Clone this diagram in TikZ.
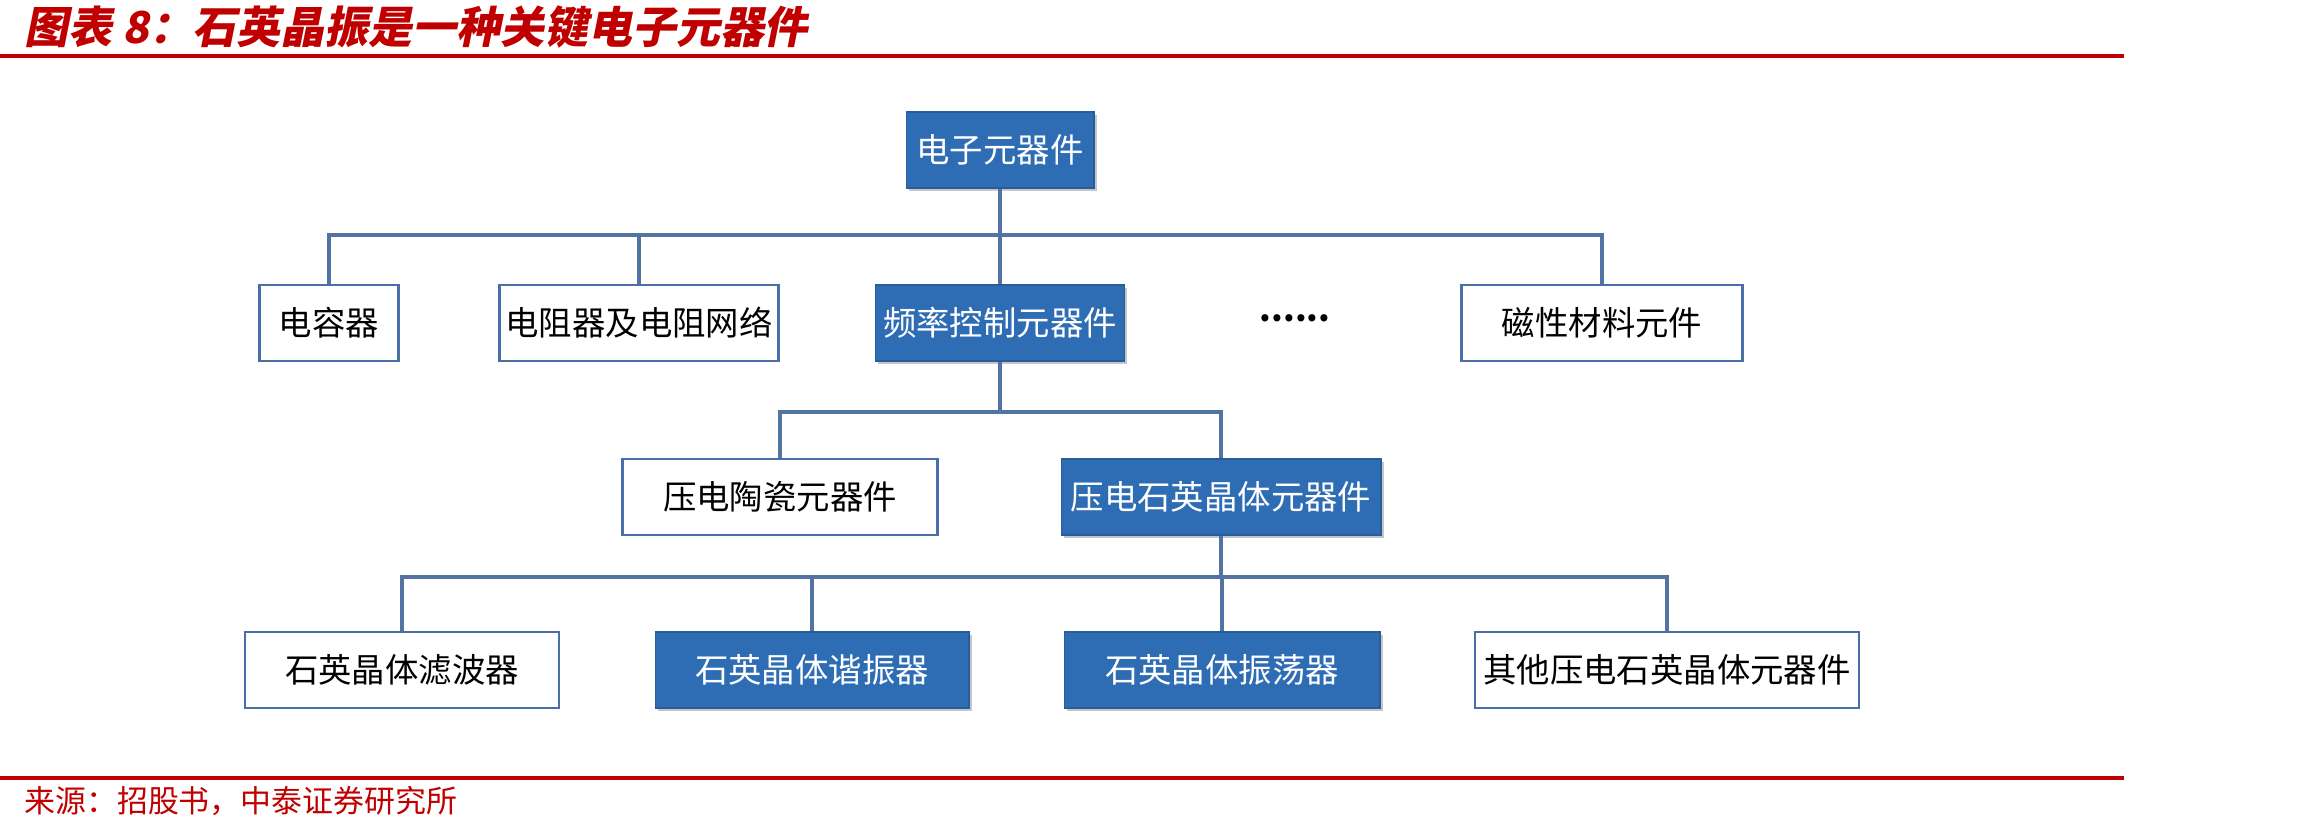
\documentclass[tikz,border=0pt]{standalone}
\usepackage{fontspec}
\setmainfont{Noto Sans CJK SC}
\newfontfamily\titlefont[FakeSlant=0.2]{Noto Sans CJK SC}
\usetikzlibrary{shadows}

\definecolor{boxblue}{RGB}{46,109,180}
\definecolor{linkblue}{RGB}{84,115,165}
\definecolor{edgeblue}{RGB}{74,110,168}
\definecolor{reportred}{RGB}{192,0,0}

\tikzset{
  boxtext/.style={font=\fontsize{19}{22}\selectfont, inner sep=0pt, minimum height=1.52cm},
  bluebox/.style={boxtext, fill=boxblue, draw=boxblue!85!black, line width=0.6pt, text=white,
    drop shadow={shadow xshift=1.6pt, shadow yshift=-1.6pt, opacity=0.45}},
  whitebox/.style={boxtext, fill=white, draw=edgeblue, line width=1.2pt, text=black},
  link/.style={draw=linkblue, line width=1.8pt},
  redrule/.style={draw=reportred, line width=2pt},
}

\begin{document}
\begin{tikzpicture}[x=0.02cm, y=-0.02cm]
    \useasboundingbox (0,0) rectangle (2302,831);

    % header and footer
    \node[anchor=west, inner sep=0pt, text=reportred, font=\titlefont\bfseries\fontsize{25}{29}\selectfont] (title) at (24,27) {图表 8：石英晶振是一种关键电子元器件};
    \draw[redrule] (0,56) -- (2124,56);
    \draw[redrule] (0,778) -- (2124,778);
    \node[anchor=west, inner sep=0pt, text=reportred, font=\fontsize{17.6}{20}\selectfont] (source) at (24,801) {来源：招股书，中泰证券研究所};

    % level 1
    \node[bluebox, minimum width=3.76cm] (root) at (1000,150) {电子元器件};

    % level 2
    \node[whitebox, minimum width=2.78cm] (cap) at (329,323) {电容器};
    \node[whitebox, minimum width=5.58cm] (res) at (639,323) {电阻器及电阻网络};
    \node[bluebox, minimum width=4.98cm] (freq) at (1000,323) {频率控制元器件};
    \node[boxtext, font=\bfseries\fontsize{19}{22}\selectfont] (more) at (1295,318) {......};
    \node[whitebox, minimum width=5.62cm] (mag) at (1602,323) {磁性材料元件};

    % level 3
    \node[whitebox, minimum width=6.3cm] (ceramic) at (780,497) {压电陶瓷元器件};
    \node[bluebox, minimum width=6.4cm] (quartz) at (1221,497) {压电石英晶体元器件};

    % level 4
    \node[whitebox, minimum width=6.28cm] (filter) at (402,670) {石英晶体滤波器};
    \node[bluebox, minimum width=6.28cm] (reson) at (812,670) {石英晶体谐振器};
    \node[bluebox, minimum width=6.32cm] (osc) at (1222,670) {石英晶体振荡器};
    \node[whitebox, minimum width=7.68cm] (other) at (1667,670) {其他压电石英晶体元器件};

    % connectors
    \coordinate (bus1) at (1000,235);
    \coordinate (bus2) at (1000,412);
    \coordinate (bus3) at (1221,577);
    \draw[link] (root.south) -- (bus1);
    \foreach \n in {cap,res,freq,mag}
        \draw[link] (bus1) -| (\n.north);
    \draw[link] (freq.south) -- (bus2);
    \foreach \n in {ceramic,quartz}
        \draw[link] (bus2) -| (\n.north);
    \draw[link] (quartz.south) -- (bus3);
    \foreach \n in {filter,reson,osc,other}
        \draw[link] (bus3) -| (\n.north);
\end{tikzpicture}
\end{document}
